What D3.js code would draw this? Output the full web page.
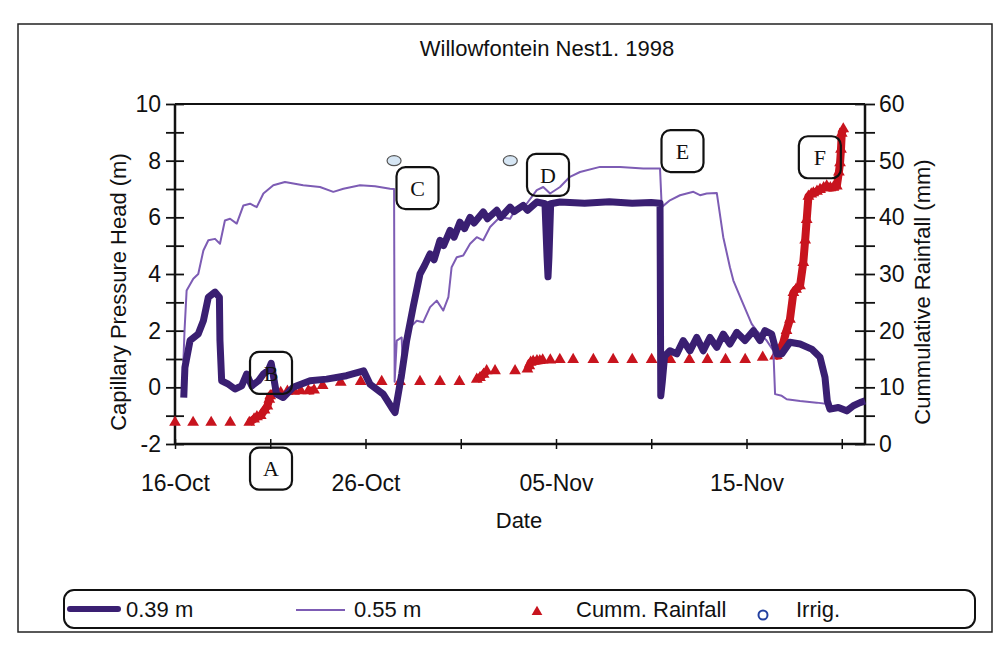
<!DOCTYPE html>
<html>
<head>
<meta charset="utf-8">
<script src="https://cdn.jsdelivr.net/npm/d3@7"></script>
<style>
  body { margin: 0; background: #fff; }
  text { font-family: "Liberation Sans", Arial, sans-serif; fill: #111; }
</style>
</head>
<body>
<script>
// days are counted from 16-Oct-1998 00:00
var deepDays = [0.46,0.52,0.79,1.22,1.49,1.75,2.1,2.33,2.36,2.45,2.8,3.15,3.5,3.76,4.03,4.38,4.64,4.9,5.05,5.33,5.68,6.2,7.09,7.96,9.0,9.9,10.24,10.93,11.37,11.55,11.9,12.16,12.5,12.86,13.1,13.39,13.6,13.91,14.1,14.44,14.65,14.96,15.2,15.49,15.7,16.18,16.4,16.89,17.1,17.59,17.8,18.28,18.5,18.99,19.42,19.53,19.58,19.63,19.72,20.21,21.5,22.8,24.0,25.0,25.46,25.5,25.58,25.7,25.98,26.34,26.68,27.03,27.39,27.73,28.08,28.44,28.78,29.13,29.49,29.92,30.36,30.71,30.97,31.32,31.59,31.85,32.28,32.81,33.42,33.86,34.12,34.24,34.38,34.82,35.26,35.61,35.96,36.22];
var deepHead = [-0.36,0.7,1.65,1.88,2.35,3.18,3.36,3.18,1.65,0.23,0.11,-0.06,0.05,0.47,0.05,0.23,0.47,0.6,0.85,-0.24,-0.36,0.0,0.23,0.29,0.41,0.58,0.11,-0.24,-0.71,-0.89,0.47,1.65,2.83,4.0,4.3,4.71,4.5,5.19,5.0,5.54,5.3,5.83,5.6,6.0,5.8,6.19,5.95,6.25,6.0,6.36,6.2,6.42,6.25,6.54,6.48,4.6,3.9,4.6,6.48,6.54,6.5,6.55,6.5,6.52,6.5,-0.3,0.2,1.1,1.29,1.18,1.65,1.29,1.76,1.29,1.76,1.41,1.88,1.53,1.94,1.65,2.0,1.65,2.0,1.88,1.18,1.18,1.59,1.53,1.35,1.06,0.35,-0.48,-0.77,-0.71,-0.83,-0.65,-0.54,-0.48];

var shallowDays = [0.44,0.5,0.61,0.96,1.22,1.49,1.75,2.1,2.36,2.62,2.89,3.24,3.59,3.94,4.29,4.64,5.16,5.77,6.73,7.61,8.31,8.84,9.71,10.5,11.29,11.5,11.53,11.64,11.9,11.98,12.1,12.34,12.69,13.03,13.39,13.74,14.08,14.35,14.52,14.79,15.13,15.49,15.84,16.18,16.54,17.06,17.59,17.94,18.46,18.99,19.33,19.69,20.21,20.73,21.26,22.31,23.36,24.58,25.46,25.55,25.98,26.51,27.21,27.56,27.91,28.44,28.78,29.13,29.31,29.75,30.27,30.53,31.06,31.41,31.5,31.85,32.11,32.81,33.68,34.38];
var shallowHead = [0.9,2.0,3.42,3.83,4.0,4.83,5.19,5.24,5.07,5.89,5.95,5.78,6.42,6.48,6.36,6.84,7.13,7.25,7.13,7.07,6.9,7.01,7.13,7.1,7.01,7.0,0.2,1.65,1.76,0.3,1.2,2.12,2.35,2.3,2.83,3.06,2.71,3.18,4.24,4.59,4.65,5.07,5.3,5.19,5.66,6.01,5.95,6.36,6.48,6.96,7.07,6.84,7.07,7.43,7.6,7.78,7.78,7.72,7.72,6.36,6.6,6.78,6.9,6.78,6.84,6.86,5.3,4.24,3.77,3.06,2.24,2.0,1.65,1.29,-0.24,-0.3,-0.42,-0.48,-0.54,-0.6];

var rainDays = [0,0.95,1.9,2.9,3.9,4.15,4.3,4.5,4.7,4.85,4.95,5.0,5.2,5.55,5.9,6.25,6.6,7.0,7.3,7.75,8.7,9.75,10.85,11.81,12.86,13.91,14.93,15.84,16.01,16.2,16.36,16.8,17.85,18.5,18.6,18.67,18.8,19.0,19.15,19.3,19.7,20.2,20.9,21.96,23.0,24.0,25.02,26.0,27.0,27.95,28.9,29.93,30.85,31.5,31.59,31.75,31.93,32.1,32.28,32.46,32.6,32.81,32.98,33.08,33.16,33.25,33.4,33.51,33.7,33.86,34.05,34.21,34.4,34.56,34.74,34.85,34.91,34.96,35.0,35.08];
var rainMm = [3.8,3.8,3.8,3.8,3.8,4.4,4.8,5.0,6.0,6.7,7.9,8.5,9.1,9.1,9.3,9.3,9.4,9.4,9.5,10.3,10.9,11.0,11.0,11.0,11.0,11.0,11.0,11.4,11.7,12.3,12.9,12.9,12.9,13.2,13.8,14.4,14.6,14.7,14.7,14.8,14.8,14.9,14.9,14.9,14.9,14.9,14.9,14.9,14.9,14.9,14.9,14.9,15.3,15.5,15.6,16.5,17.9,20.0,22.0,26.7,27.3,27.9,32.0,36.0,39.6,43.7,44.1,44.3,44.6,44.9,45.2,45.5,45.2,45.3,45.5,48.0,49.6,52.0,54.8,55.6];

var irrigDays = [11.5, 17.6];
var irrigHead = [8.0, 8.0];

var noteLabels = ["A", "B", "C", "D", "E", "F"];
var noteDays = [5.04, 5.04, 12.73, 19.58, 26.64, 33.85];
var noteHead = [-2.87, 0.51, 7.03, 7.5, 8.34, 8.12];

var headTicks = d3.range(-2, 11, 1);
var rainTicks = d3.range(0, 61, 5);
var dateTickDays = d3.range(0, 37, 5);

var base = Date.UTC(1998, 9, 16);
function dayToDate(d) { return new Date(base + d * 864e5); }

var svg = d3.select("body").append("svg")
    .attr("width", 1001)
    .attr("height", 659);

svg.append("rect").attr("width", 1001).attr("height", 659).attr("fill", "#fff");

// outer frame
svg.append("rect")
    .attr("x", 18).attr("y", 24)
    .attr("width", 974).attr("height", 608)
    .attr("fill", "none")
    .attr("stroke", "#222")
    .attr("stroke-width", 1.5);

var x = d3.scaleUtc()
    .domain([dayToDate(0), dayToDate(36.22)])
    .range([175, 865]);
var yL = d3.scaleLinear().domain([-2, 10]).range([444, 104]);
var yR = d3.scaleLinear().domain([0, 60]).range([444, 104]);

// title
svg.append("text")
    .attr("x", 547).attr("y", 56)
    .attr("text-anchor", "middle")
    .style("font-size", "22px")
    .text("Willowfontein Nest1. 1998");

// top border of plot
svg.append("line")
    .attr("x1", 175).attr("x2", 865)
    .attr("y1", 104).attr("y2", 104)
    .attr("stroke", "#111").attr("stroke-width", 2);

// left axis (ticks cross the line)
var gL = svg.append("g").attr("transform", "translate(175,0)");
gL.call(d3.axisLeft(yL).tickValues(headTicks).tickSize(9).tickPadding(5)
    .tickFormat(function(d) { return d % 2 === 0 ? d : ""; }));
gL.append("g").call(d3.axisRight(yL).tickValues(headTicks).tickSize(9).tickFormat(""));
gL.selectAll(".domain").remove();
gL.append("line").attr("y1", 104).attr("y2", 444).attr("stroke", "#111").attr("stroke-width", 2.5);
gL.selectAll(".tick line").attr("stroke", "#111").attr("stroke-width", 1.8);
gL.selectAll(".tick text").style("font-size", "23px").attr("fill", "#111");

// right axis
var gR = svg.append("g").attr("transform", "translate(865,0)");
gR.call(d3.axisRight(yR).tickValues(rainTicks).tickSize(10).tickPadding(4)
    .tickFormat(function(d) { return d % 10 === 0 ? d : ""; }));
gR.append("g").call(d3.axisLeft(yR).tickValues(rainTicks).tickSize(10).tickFormat(""));
gR.selectAll(".domain").remove();
gR.append("line").attr("y1", 104).attr("y2", 444).attr("stroke", "#111").attr("stroke-width", 2.5);
gR.selectAll(".tick line").attr("stroke", "#111").attr("stroke-width", 1.8);
gR.selectAll(".tick text").style("font-size", "23px").attr("fill", "#111");

// bottom axis
var fmt = d3.utcFormat("%d-%b");
var gB = svg.append("g").attr("transform", "translate(0,444)");
gB.call(d3.axisBottom(x).tickValues(dateTickDays.map(dayToDate)).tickSize(5).tickPadding(26)
    .tickFormat(function(d, i) { return i % 2 === 0 ? fmt(d) : ""; }));
gB.append("g").call(d3.axisTop(x).tickValues(dateTickDays.map(dayToDate)).tickSize(5).tickFormat(""));
gB.selectAll(".domain").remove();
gB.append("line").attr("x1", 175).attr("x2", 865).attr("stroke", "#111").attr("stroke-width", 2.5);
gB.selectAll(".tick line").attr("stroke", "#111").attr("stroke-width", 1.5);
gB.selectAll(".tick text").style("font-size", "23px").attr("fill", "#111");

// axis titles
svg.append("text")
    .attr("transform", "translate(118,292) rotate(-90)")
    .attr("text-anchor", "middle")
    .attr("dy", "0.35em")
    .style("font-size", "22px")
    .text("Capillary Pressure Head (m)");
svg.append("text")
    .attr("transform", "translate(922,292) rotate(-90)")
    .attr("text-anchor", "middle")
    .attr("dy", "0.35em")
    .style("font-size", "22px")
    .text("Cummulative Rainfall (mm)");
svg.append("text")
    .attr("x", 519).attr("y", 528)
    .attr("text-anchor", "middle")
    .style("font-size", "22px")
    .text("Date");

// rainfall: dense stretches drawn as a thick band, every reading as a triangle
var rain = d3.zip(rainDays, rainMm);
var segs = [], cur = [rain[0]];
for (var i = 1; i < rain.length; i++) {
  if (rain[i][0] - rain[i - 1][0] < 0.3) { cur.push(rain[i]); }
  else { if (cur.length > 1) segs.push(cur); cur = [rain[i]]; }
}
if (cur.length > 1) segs.push(cur);

var rainLine = d3.line()
    .x(function(d) { return x(dayToDate(d[0])); })
    .y(function(d) { return yR(d[1]); });

svg.append("g").selectAll("path")
  .data(segs)
  .enter().append("path")
    .attr("d", rainLine)
    .attr("fill", "none")
    .attr("stroke", "#c8141e")
    .attr("stroke-width", 8)
    .attr("stroke-linejoin", "round");

svg.append("g").selectAll("path")
  .data(rain)
  .enter().append("path")
    .attr("transform", function(d) { return "translate(" + x(dayToDate(d[0])) + "," + yR(d[1]) + ")"; })
    .attr("d", d3.symbol().type(d3.symbolTriangle).size(60))
    .attr("fill", "#c8141e");

var headLine = d3.line()
    .x(function(d) { return x(dayToDate(d[0])); })
    .y(function(d) { return yL(d[1]); });

// 0.55 m
svg.append("path")
    .datum(d3.zip(shallowDays, shallowHead))
    .attr("d", headLine)
    .attr("fill", "none")
    .attr("stroke", "#7d5cb4")
    .attr("stroke-width", 2)
    .attr("stroke-linejoin", "round");

// 0.39 m
svg.append("path")
    .datum(d3.zip(deepDays, deepHead))
    .attr("d", headLine)
    .attr("fill", "none")
    .attr("stroke", "#3a1f72")
    .attr("stroke-width", 7)
    .attr("stroke-linejoin", "round");

// irrigation
svg.append("g").selectAll("ellipse")
  .data(d3.zip(irrigDays, irrigHead))
  .enter().append("ellipse")
    .attr("cx", function(d) { return x(dayToDate(d[0])); })
    .attr("cy", function(d) { return yL(d[1]); })
    .attr("rx", 7).attr("ry", 5)
    .attr("fill", "#d6e6f4")
    .attr("stroke", "#555")
    .attr("stroke-width", 1.2);

// event boxes
var notes = svg.append("g").selectAll("g")
  .data(d3.zip(noteLabels, noteDays, noteHead))
  .enter().append("g")
    .attr("transform", function(d) { return "translate(" + x(dayToDate(d[1])) + "," + yL(d[2]) + ")"; });
notes.append("rect")
    .attr("x", -21).attr("y", -21)
    .attr("width", 42).attr("height", 42)
    .attr("rx", 9)
    .attr("fill", "none")
    .attr("stroke", "#111")
    .attr("stroke-width", 2.2);
notes.append("text")
    .attr("text-anchor", "middle")
    .attr("dy", "0.35em")
    .style("font-family", "'Liberation Serif', 'DejaVu Serif', serif")
    .style("font-size", "22px")
    .text(function(d) { return d[0]; });

// legend
var lg = svg.append("g");
lg.append("rect")
    .attr("x", 64).attr("y", 590)
    .attr("width", 911).attr("height", 38)
    .attr("rx", 10)
    .attr("fill", "none")
    .attr("stroke", "#111")
    .attr("stroke-width", 2);
lg.append("line").attr("x1", 70).attr("x2", 118).attr("y1", 609).attr("y2", 609)
    .attr("stroke", "#3a1f72").attr("stroke-width", 6).attr("stroke-linecap", "round");
lg.append("text").attr("x", 126).attr("y", 617).style("font-size", "22px").text("0.39 m");
lg.append("line").attr("x1", 296).attr("x2", 345).attr("y1", 610).attr("y2", 610)
    .attr("stroke", "#7d5cb4").attr("stroke-width", 2);
lg.append("text").attr("x", 354).attr("y", 617).style("font-size", "22px").text("0.55 m");
lg.append("path").attr("transform", "translate(537,612)")
    .attr("d", d3.symbol().type(d3.symbolTriangle).size(50))
    .attr("fill", "#c8141e");
lg.append("text").attr("x", 576).attr("y", 617).style("font-size", "22px").text("Cumm. Rainfall");
lg.append("circle").attr("cx", 763).attr("cy", 615).attr("r", 4.5)
    .attr("fill", "none").attr("stroke", "#2340a0").attr("stroke-width", 2);
lg.append("text").attr("x", 796).attr("y", 617).style("font-size", "22px").text("Irrig.");
</script>
</body>
</html>
